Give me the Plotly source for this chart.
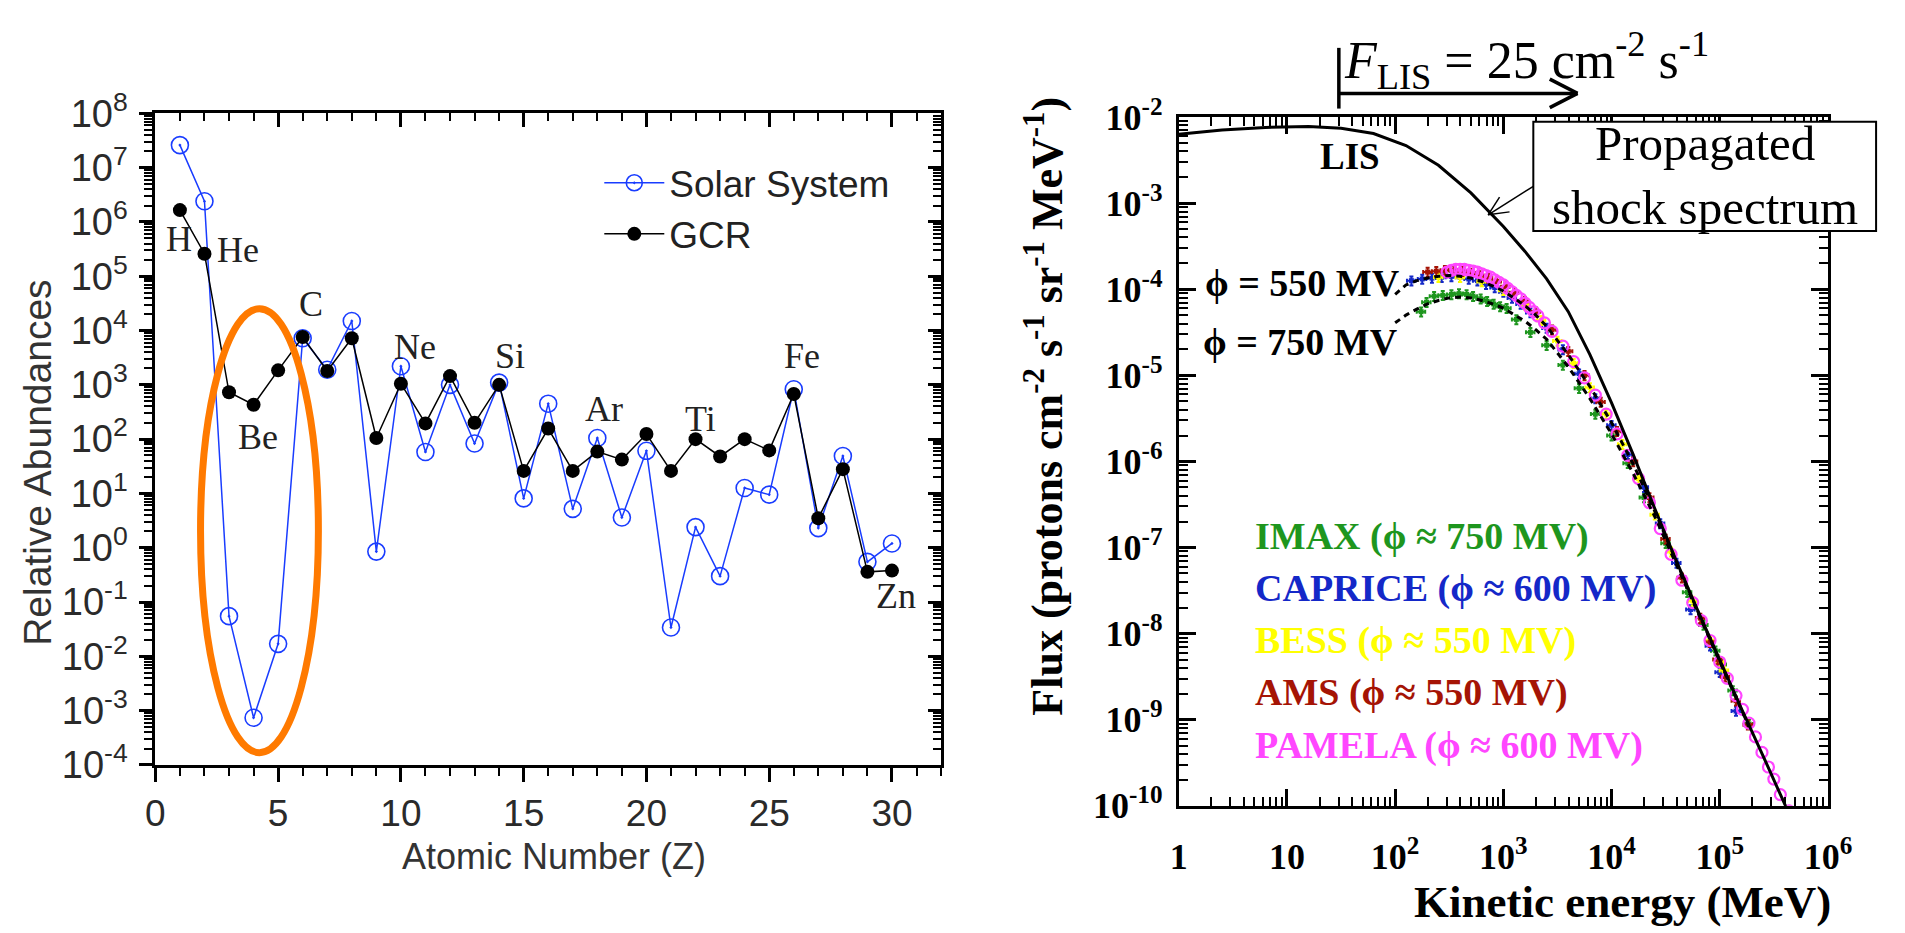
import math
import numpy as np
import plotly.graph_objects as go

W, H = 1905, 933


def px(x):
    return x / W


def py(y):
    return 1 - y / H


# ---------------- Left panel data ----------------
Z = list(range(1, 31))
SOLAR = [2.6e7, 2.4e6, 5.5e-2, 7.4e-4, 1.7e-2, 7.2e3, 1.9e3, 1.5e4, 0.85, 2.2e3,
         58, 1.0e3, 83, 1.1e3, 8.1, 450, 5.2, 105, 3.6, 61,
         0.034, 2.4, 0.30, 12.6, 9.5, 830, 2.3, 49, 0.55, 1.2]
GCR = [1.65e6, 2.6e5, 730, 430, 1850, 7.6e3, 1.8e3, 7.2e3, 105, 1.05e3,
       195, 1.45e3, 200, 1.0e3, 26, 157, 26, 59, 42, 124,
       26, 100, 48, 100, 62, 680, 3.5, 28, 0.36, 0.38]
ELEMENTS = ["H", "He", "Be", "C", "Ne", "Si", "Ar", "Ti", "Fe", "Zn"]
LEFT_X_TICKS = [0, 5, 10, 15, 20, 25, 30]
LEFT_Y_EXP = list(range(-4, 9))

# ---------------- Right panel data (log10 values) ----------------
LIS_LOGE = [0.0, 0.4, 0.8, 1.2, 1.5, 1.8, 2.1, 2.4, 2.7, 3.0, 3.2, 3.4, 3.6, 3.8,
            4.0, 4.2, 4.4, 4.6, 4.8, 5.0, 5.2, 5.4, 5.6, 5.7]
LIS_LOGF = [-2.2, -2.15, -2.12, -2.11, -2.13, -2.19, -2.33, -2.56, -2.88, -3.27,
            -3.56, -3.88, -4.26, -4.76, -5.32, -5.92, -6.55, -7.16, -7.74, -8.31,
            -8.87, -9.42, -9.98, -10.26]

MOD_LOGE = [2.0, 2.1, 2.2, 2.3, 2.4, 2.5, 2.6, 2.7, 2.8, 2.9, 3.0, 3.1, 3.2, 3.3,
            3.4, 3.6, 3.8, 4.0, 4.2, 4.4, 4.6, 4.8, 5.0, 5.27]
MOD550_LOGF = [-4.06, -3.95, -3.9, -3.87, -3.85, -3.84, -3.85, -3.87, -3.91, -3.96,
               -4.02, -4.1, -4.19, -4.3, -4.43, -4.76, -5.13, -5.55, -6.03, -6.58,
               -7.17, -7.75, -8.32, -9.08]
MOD750_LOGF = [-4.39, -4.3, -4.23, -4.17, -4.13, -4.1, -4.09, -4.1, -4.13, -4.17,
               -4.22, -4.29, -4.37, -4.47, -4.58, -4.9, -5.27, -5.68, -6.14, -6.64,
               -7.2, -7.76, -8.33, -9.08]

IMAX_LOGE = [2.24, 2.29, 2.36, 2.44, 2.52, 2.59, 2.66, 2.72, 2.79, 2.85, 2.91, 2.97,
             3.03, 3.12, 3.25, 3.4, 3.55, 3.7, 3.85, 4.0, 4.15, 4.3, 4.5, 4.7, 4.85,
             4.96, 5.02, 5.12, 5.27]
IMAX_LOGF = [-4.26, -4.15, -4.08, -4.07, -4.06, -4.05, -4.06, -4.08, -4.11, -4.14,
             -4.17, -4.2, -4.22, -4.35, -4.5, -4.65, -4.88, -5.15, -5.45, -5.7,
             -6.02, -6.42, -6.95, -7.52, -7.9, -8.2, -8.36, -8.66, -9.05]

CAPRICE_LOGE = [2.15, 2.25, 2.34, 2.43, 2.52, 2.6, 2.68, 2.76, 2.84, 2.92, 3.0, 3.08,
                3.16, 3.25, 3.4, 3.55, 3.7, 3.85, 4.0, 4.15, 4.3, 4.45, 4.6, 4.73,
                4.91, 5.0, 5.15]
CAPRICE_LOGF = [-3.9, -3.88, -3.87, -3.86, -3.85, -3.86, -3.88, -3.9, -3.94, -3.98,
                -4.03, -4.1, -4.17, -4.27, -4.45, -4.7, -4.98, -5.27, -5.58, -5.92,
                -6.3, -6.72, -7.18, -7.72, -8.14, -8.45, -8.9]

BESS_LOGE = [2.4, 2.6, 2.8, 3.0, 3.2, 3.35, 3.5, 3.65, 3.8, 3.95, 4.1, 4.25, 4.4,
             4.55, 4.75, 4.91, 5.0, 5.04]
BESS_LOGF = [-3.86, -3.86, -3.91, -4.01, -4.18, -4.36, -4.6, -4.86, -5.14, -5.45,
             -5.8, -6.2, -6.62, -7.05, -7.62, -8.08, -8.33, -8.43]

AMS_LOGE = [2.3, 2.38, 2.46, 2.54, 2.62, 2.7, 2.78, 2.86, 2.94, 3.02, 3.1, 3.2, 3.3,
            3.45, 3.6, 3.75, 3.9, 4.05, 4.2, 4.35, 4.5, 4.65, 4.82, 4.91, 4.98, 5.05,
            5.15, 5.26]
AMS_LOGF = [-3.8, -3.79, -3.78, -3.78, -3.79, -3.81, -3.84, -3.87, -3.91, -3.97,
            -4.04, -4.14, -4.26, -4.47, -4.72, -5.0, -5.31, -5.65, -6.0, -6.42,
            -6.9, -7.35, -7.82, -8.1, -8.3, -8.5, -8.78, -9.06]

PAMELA_LOGE = [2.48, 2.52, 2.56, 2.6, 2.64, 2.68, 2.72, 2.76, 2.8, 2.84, 2.88, 2.92,
               2.96, 3.0, 3.04, 3.08, 3.12, 3.16, 3.2, 3.24, 3.28, 3.32, 3.38, 3.45,
               3.55, 3.65, 3.75, 3.85, 3.95, 4.05, 4.15, 4.25, 4.35, 4.45, 4.55, 4.65,
               4.75, 4.83, 4.91, 5.0, 5.07, 5.15, 5.21, 5.27, 5.33, 5.39, 5.45, 5.5,
               5.56, 5.64, 5.72]
PAMELA_LOGF = [-3.8, -3.78, -3.77, -3.77, -3.77, -3.78, -3.79, -3.8, -3.82, -3.84,
               -3.86, -3.89, -3.92, -3.95, -3.99, -4.03, -4.07, -4.11, -4.16, -4.21,
               -4.26, -4.31, -4.39, -4.49, -4.66, -4.84, -5.03, -5.23, -5.45, -5.68,
               -5.93, -6.2, -6.48, -6.78, -7.08, -7.38, -7.64, -7.85, -8.08, -8.33,
               -8.52, -8.72, -8.88, -9.04, -9.2, -9.38, -9.55, -9.69, -9.87, -10.06,
               -10.08]

RIGHT_X_EXP = [0, 1, 2, 3, 4, 5, 6]
RIGHT_Y_EXP = [-10, -9, -8, -7, -6, -5, -4, -3, -2]

EXPERIMENTS = [
    ("IMAX", "750", "rgb(30,150,30)"),
    ("CAPRICE", "600", "rgb(20,40,200)"),
    ("BESS", "550", "rgb(255,255,0)"),
    ("AMS", "550", "rgb(165,20,5)"),
    ("PAMELA", "600", "rgb(255,70,255)"),
]


def p10(a):
    return (10.0 ** np.array(a)).tolist()


SANS = "Liberation Sans, Arial, sans-serif"
SERIF = "Liberation Serif, Times New Roman, serif"
BLUE = "rgb(25,60,255)"

fig = go.Figure()

# ---------------- Left panel traces ----------------
fig.add_trace(go.Scatter(
    x=Z, y=SOLAR, mode="lines+markers", name="Solar System",
    line=dict(color=BLUE, width=1.5),
    marker=dict(symbol="circle-open-dot", size=17, color=BLUE, line=dict(width=1.6)),
    xaxis="x", yaxis="y"))
fig.add_trace(go.Scatter(
    x=Z, y=GCR, mode="lines+markers", name="GCR",
    line=dict(color="black", width=1.5),
    marker=dict(symbol="circle", size=14, color="black"),
    xaxis="x", yaxis="y"))
fig.add_trace(go.Scatter(x=[None], y=[None], xaxis="x3", yaxis="y3",
                         showlegend=False, hoverinfo="skip"))

# ---------------- Right panel traces ----------------
data_sets = {
    "IMAX": (IMAX_LOGE, IMAX_LOGF),
    "CAPRICE": (CAPRICE_LOGE, CAPRICE_LOGF),
    "BESS": (BESS_LOGE, BESS_LOGF),
    "AMS": (AMS_LOGE, AMS_LOGF),
    "PAMELA": (PAMELA_LOGE, PAMELA_LOGF),
}
for name, phi, col in EXPERIMENTS:
    le, lf = data_sets[name]
    if name == "PAMELA":
        marker = dict(symbol="circle-open", size=11, color=col, line=dict(width=2.2, color=col))
        ex = None
        ey = None
    else:
        marker = dict(symbol="square", size=5, color=col)
        ex = dict(type="percent", value=9, color=col, thickness=2, width=2)
        ey = dict(type="percent", value=12, color=col, thickness=2, width=2)
    fig.add_trace(go.Scatter(
        x=p10(le), y=p10(lf), mode="markers", marker=marker,
        error_x=ex, error_y=ey, showlegend=False,
        xaxis="x2", yaxis="y2", name=name))

fig.add_trace(go.Scatter(x=p10(MOD_LOGE), y=p10(MOD750_LOGF), mode="lines",
                         line=dict(color="black", width=3, dash="6px,5px"),
                         showlegend=False, xaxis="x2", yaxis="y2"))
fig.add_trace(go.Scatter(x=p10(MOD_LOGE), y=p10(MOD550_LOGF), mode="lines",
                         line=dict(color="black", width=3, dash="6px,5px"),
                         showlegend=False, xaxis="x2", yaxis="y2"))
fig.add_trace(go.Scatter(x=p10(LIS_LOGE), y=p10(LIS_LOGF), mode="lines",
                         line=dict(color="black", width=3),
                         showlegend=False, xaxis="x2", yaxis="y2"))

# ---------------- Axes ----------------
L_X0, L_X1, L_Y0, L_Y1 = 148, 948, 91, 778
R_X0, R_X1, R_Y0, R_Y1 = 1190, 1851, 95, 821

left_y_text = ["10<sup>%d</sup>" % k for k in LEFT_Y_EXP]
right_x_text = ["<b>1</b>", "<b>10</b>"] + ["<b>10<sup>%d</sup></b>" % k for k in RIGHT_X_EXP[2:]]
right_y_text = ["<b>10<sup>%d</sup></b>" % k for k in RIGHT_Y_EXP]

lfont = dict(family=SANS, size=38, color="#2a2a2a")
lxfont = dict(family=SANS, size=37, color="#2a2a2a")
rfont = dict(family=SERIF, size=36, color="black")

fig.update_layout(
    width=W, height=H,
    margin=dict(l=0, r=0, t=0, b=0),
    paper_bgcolor="white", plot_bgcolor="white",
    showlegend=True,
    legend=dict(x=px(600), y=py(132), xanchor="left", yanchor="top",
                font=dict(family=SANS, size=37, color="#222"),
                bgcolor="rgba(0,0,0,0)", itemwidth=60, tracegroupgap=0),
    xaxis=dict(domain=[px(L_X0), px(L_X1)], range=[0, 32], anchor="y",
               showline=True, linewidth=3, linecolor="black", mirror=True,
               ticks="outside", ticklen=14, tickwidth=2.5, tickcolor="black",
               tickvals=LEFT_X_TICKS, tickfont=lxfont,
               minor=dict(ticks="outside", ticklen=8, tickwidth=2, dtick=1, tick0=0,
                          tickcolor="black", showgrid=False),
               showgrid=False, zeroline=False),
    yaxis=dict(domain=[py(L_Y1), py(L_Y0)], type="log", range=[-4, 8], anchor="x",
               showline=True, linewidth=3, linecolor="black", mirror=True,
               ticks="outside", ticklen=13, tickwidth=2.5, tickcolor="black",
               tickvals=[10.0 ** k for k in LEFT_Y_EXP], ticktext=left_y_text,
               tickfont=lfont, ticklabelstandoff=4,
               minor=dict(ticks="outside", ticklen=8, tickwidth=2, dtick="D1",
                          tickcolor="black", showgrid=False),
               showgrid=False, zeroline=False),
    xaxis3=dict(overlaying="x", side="top", anchor="y", range=[0, 32],
                showline=False, ticks="inside", ticklen=14, tickwidth=2.5, tickcolor="black",
                tickvals=LEFT_X_TICKS, showticklabels=False,
                minor=dict(ticks="inside", ticklen=8, tickwidth=2, dtick=1, tick0=0,
                           tickcolor="black", showgrid=False),
                showgrid=False, zeroline=False),
    yaxis3=dict(overlaying="y", side="right", anchor="x", type="log", range=[-4, 8],
                showline=False, ticks="inside", ticklen=13, tickwidth=2.5, tickcolor="black",
                tickvals=[10.0 ** k for k in LEFT_Y_EXP], showticklabels=False,
                minor=dict(ticks="inside", ticklen=8, tickwidth=2, dtick="D1",
                           tickcolor="black", showgrid=False),
                showgrid=False, zeroline=False),
    xaxis2=dict(domain=[px(R_X0), px(R_X1)], type="log", range=[0, 6], anchor="y2",
                showline=True, linewidth=3, linecolor="black", mirror="ticks",
                ticks="inside", ticklen=17, tickwidth=2.5, tickcolor="black",
                tickvals=[10.0 ** k for k in RIGHT_X_EXP], ticktext=right_x_text,
                tickfont=rfont, ticklabelstandoff=17,
                minor=dict(ticks="inside", ticklen=9, tickwidth=2, dtick="D1",
                           tickcolor="black", showgrid=False),
                showgrid=False, zeroline=False),
    yaxis2=dict(domain=[py(R_Y1), py(R_Y0)], type="log", range=[-10, -2], anchor="x2",
                showline=True, linewidth=3, linecolor="black", mirror="ticks",
                ticks="inside", ticklen=17, tickwidth=2.5, tickcolor="black",
                tickvals=[10.0 ** k for k in RIGHT_Y_EXP], ticktext=right_y_text,
                tickfont=rfont, ticklabelstandoff=6,
                minor=dict(ticks="inside", ticklen=9, tickwidth=2, dtick="D1",
                           tickcolor="black", showgrid=False),
                showgrid=False, zeroline=False),
)

# ---------------- Annotations ----------------
ann = []


def text(x, y, s, font, xanchor="center", yanchor="middle", angle=0):
    ann.append(dict(x=px(x), y=py(y), xref="paper", yref="paper", text=s,
                    showarrow=False, font=font, xanchor=xanchor, yanchor=yanchor,
                    textangle=angle, borderpad=0))


# left panel axis titles
text(28, 460, "Relative Abundances", dict(family=SANS, size=39, color="#333"), angle=-90)
text(554, 874, "Atomic Number (Z)", dict(family=SANS, size=36, color="#333"))

# element labels
elem_pos = [(172, 223), (232, 235), (253, 432), (306, 292), (412, 337), (509, 347),
            (605, 403), (703, 413), (806, 347), (902, 600)]
for el, (ex_, ey_) in zip(ELEMENTS, elem_pos):
    text(ex_, ey_, el, dict(family=SERIF, size=36, color="#222"))

# right panel texts
text(1364, 137, "<b>LIS</b>", dict(family=SERIF, size=37, color="black"))
text(1416, 270, "<b>\u03d5 = 550 MV</b>", dict(family=SERIF, size=38, color="black"), xanchor="right")
text(1414, 332, "<b>\u03d5 = 750 MV</b>", dict(family=SERIF, size=38, color="black"), xanchor="right")
for i, (name, phi, col) in enumerate(EXPERIMENTS):
    text(1267, 537 + 55 * i, "<b>%s (\u03d5 \u2248 %s MV)</b>" % (name, phi),
         dict(family=SERIF, size=38, color=col), xanchor="left")

text(1053, 400, "<b>Flux (protons cm<sup>-2</sup> s<sup>-1</sup> sr<sup>-1</sup> MeV<sup>-1</sup>)</b>",
     dict(family=SERIF, size=44, color="black"), angle=-90)
text(1855, 922, "<b>Kinetic energy (MeV)</b>", dict(family=SERIF, size=45, color="black"),
     xanchor="right")

text(1357, 35, "<i>F</i><sub>LIS</sub> = 25 cm<sup>-2</sup> s<sup>-1</sup>",
     dict(family=SERIF, size=52, color="black"), xanchor="left")

# propagated box text
text(1726, 157, "Propagated<br>shock spectrum", dict(family=SERIF, size=49, color="black"))

fig.update_layout(annotations=ann)

# ---------------- Shapes ----------------
shapes = []
# orange ellipse around Li-Be-B
shapes.append(dict(type="circle", xref="paper", yref="paper",
                   x0=px(194), x1=px(314), y0=py(765), y1=py(297),
                   line=dict(color="rgb(255,122,0)", width=7)))
# propagated box
shapes.append(dict(type="rect", xref="paper", yref="paper",
                   x0=px(1551), x1=px(1900), y0=py(215), y1=py(100),
                   line=dict(color="black", width=2), fillcolor="white", layer="above"))


def seg(x0, y0, x1, y1, w):
    shapes.append(dict(type="line", xref="paper", yref="paper",
                       x0=px(x0), y0=py(y0), x1=px(x1), y1=py(y1),
                       line=dict(color="black", width=w)))


def arrowhead(tx, ty, fx, fy, length, ang, w):
    d = math.hypot(fx - tx, fy - ty)
    ux, uy = (fx - tx) / d, (fy - ty) / d
    for s in (1, -1):
        a = math.radians(ang) * s
        vx = ux * math.cos(a) - uy * math.sin(a)
        vy = ux * math.sin(a) + uy * math.cos(a)
        seg(tx, ty, tx + length * vx, ty + length * vy, w)


# F_LIS bracket arrow
seg(1353, 22, 1353, 86, 3.5)
seg(1353, 70, 1596, 70, 3.5)
arrowhead(1596, 70, 1353, 70, 32, 28, 3.5)
# box pointer
seg(1551, 168, 1505, 198, 1.5)
arrowhead(1505, 198, 1551, 168, 22, 25, 1.5)

fig.update_layout(shapes=shapes)

fig.write_html("out.html")
